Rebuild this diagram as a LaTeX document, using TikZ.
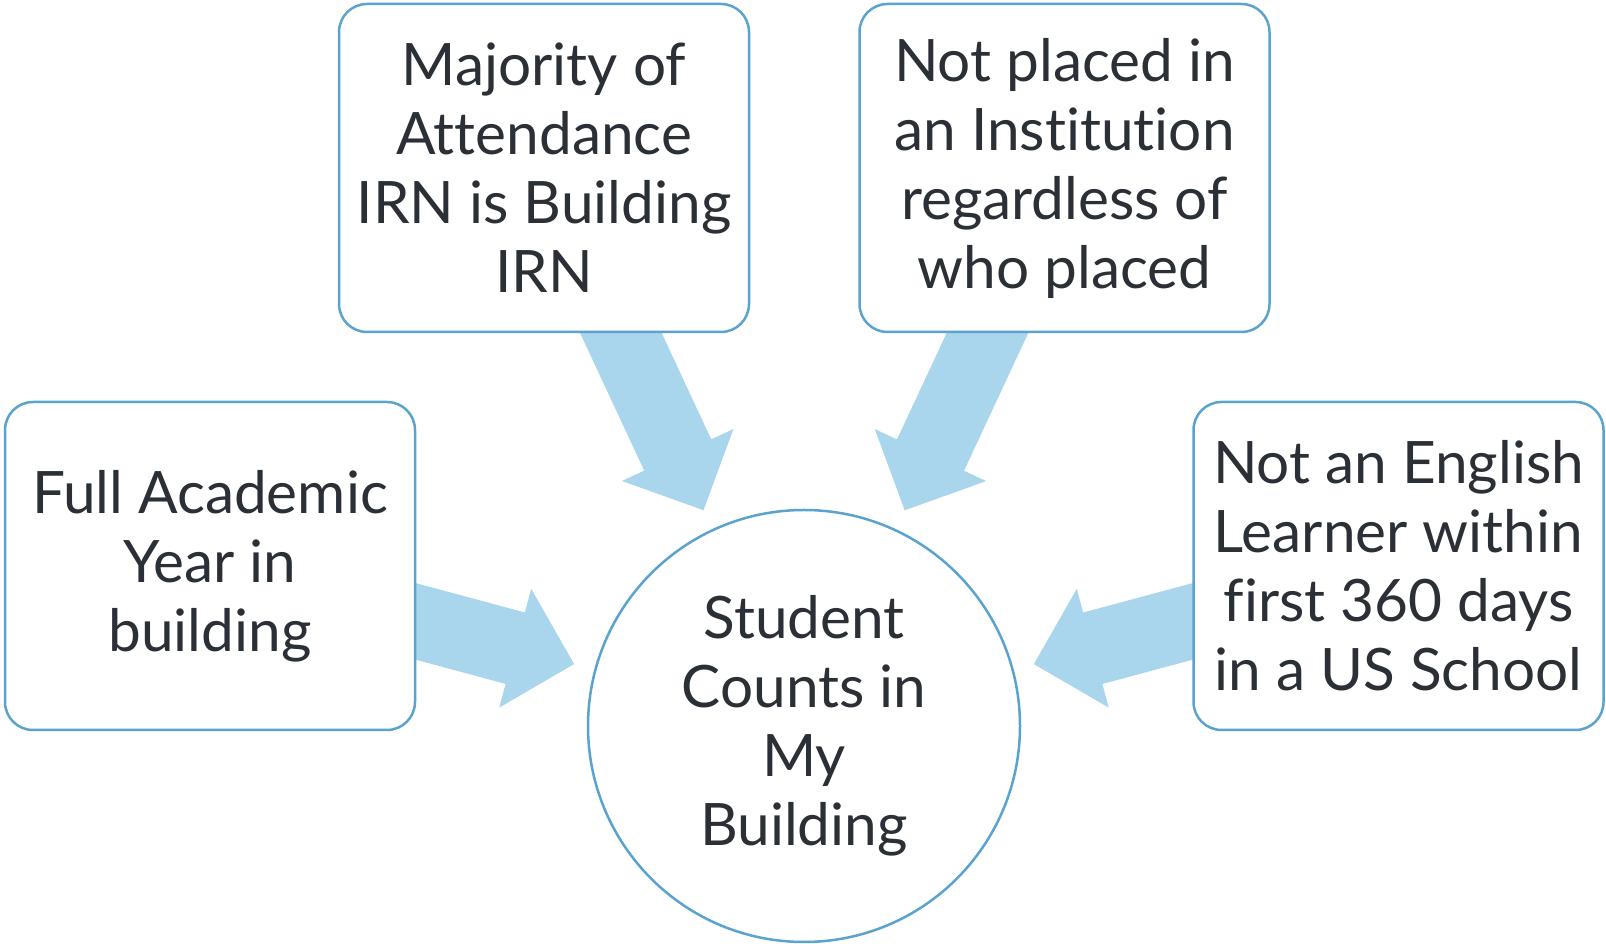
\documentclass[tikz,border=0pt]{standalone}
\usepackage{fontspec}
\setmainfont{Lato}[Ligatures={NoCommon,NoRare}]
\usepackage{tikz}
\usetikzlibrary{calc,backgrounds}

\definecolor{edgeblue}{RGB}{91,163,207}
\definecolor{arrowblue}{RGB}{169,214,236}
\definecolor{inkgray}{RGB}{43,47,54}

% broad arrow from the middle of #1 towards #2, stopping short of #2
\newcommand\fatarrow[2]{%
  \fill[arrowblue] let \p1=($(#2)-(#1)$), \n1={atan2(\y1,\x1)},
      \n2={veclen(\x1,\y1)-238} in
    [shift={(#1)}, rotate=\n1]
    (0,-37) -- (\n2-61,-37) -- (\n2-61,-61.5) -- (\n2,0)
    -- (\n2-61,61.5) -- (\n2-61,37) -- (0,37) -- cycle;}

\begin{document}
\begin{tikzpicture}[x=1pt, y=1pt,
    factbox/.style={draw=edgeblue, line width=2.5pt, fill=white, rounded corners=28pt,
      minimum width=410pt, minimum height=328pt, align=center, text=inkgray,
      font=\fontsize{58.5}{69}\selectfont},
    goal/.style={factbox, circle, rounded corners=0pt, minimum size=432pt}]
    \useasboundingbox (0,0) rectangle (1606,944);
    \node[factbox] (yr)   at (210,378)    {Full Academic\\Year in\\building};
    \node[factbox] (irn)  at (544,776)    {Majority of\\Attendance\\IRN is Building\\IRN};
    \node[factbox] (inst) at (1064.5,776) {Not placed in\\an Institution\\regardless of\\who placed};
    \node[factbox] (el)   at (1398.5,378) {Not an English\\Learner within\\first 360 days\\in a US School};
    \node[goal]    (hub)  at (804,218)    {Student\\Counts in\\My\\Building};
    \begin{scope}[on background layer]
        \fatarrow{yr}{hub}
        \fatarrow{irn}{hub}
        \fatarrow{inst}{hub}
        \fatarrow{el}{hub}
    \end{scope}
\end{tikzpicture}
\end{document}
